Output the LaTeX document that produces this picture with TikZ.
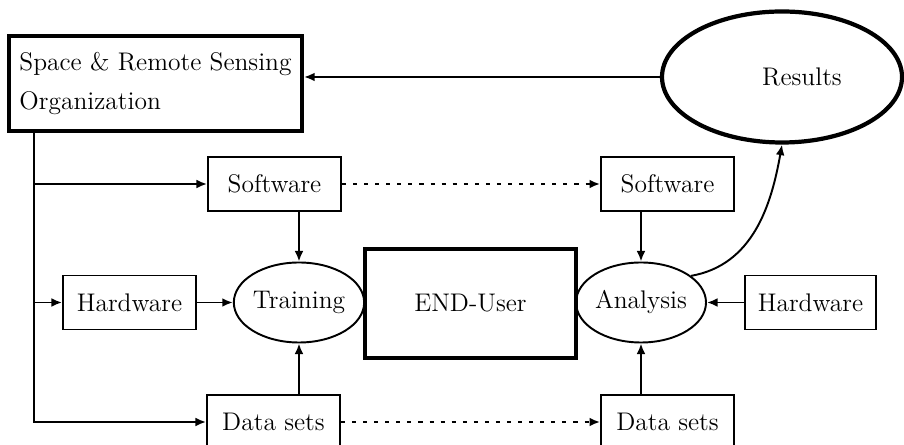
\documentclass[tikz,border=0pt]{standalone}
\usetikzlibrary{arrows.meta,shapes.geometric}
\begin{document}
\begin{tikzpicture}[>={Latex[length=6pt,width=5pt]},line width=1.1pt,
  every node/.style={font=\fontsize{14.5}{22}\selectfont},
  box/.style={draw,rectangle,minimum width=2.66cm,minimum height=1.08cm,inner sep=0pt},
  oval/.style={draw,ellipse,minimum width=2.6cm,minimum height=1.6cm,inner sep=0pt},
  thickbox/.style={draw,rectangle,line width=2.4pt,inner sep=0pt},
  dots/.style={dash pattern=on 2.3pt off 4pt}]
\useasboundingbox (0,0) rectangle (18.08,8.9);
\node[thickbox,minimum width=5.86cm,minimum height=1.9cm,align=left] (org) at (3.11,7.23) {Space \& Remote Sensing\\Organization};
\node[draw,ellipse,line width=2.4pt,minimum width=4.8cm,minimum height=2.62cm,inner sep=0pt] (res) at (15.64,7.36) {\hspace*{0.8cm}Results};
\node[box] (softL) at (5.49,5.22) {Software};
\node[box] (softR) at (13.35,5.22) {Software};
\node[box] (hardL) at (2.59,2.85) {Hardware};
\node[box,minimum width=2.62cm] (hardR) at (16.21,2.85) {Hardware};
\node[oval] (train) at (5.98,2.85) {Training};
\node[thickbox,minimum width=4.22cm,minimum height=2.18cm] (user) at (9.41,2.83) {END-User};
\node[oval] (ana) at (12.82,2.85) {Analysis};
\node[box] (dataL) at (5.47,0.46) {Data sets};
\node[box] (dataR) at (13.35,0.46) {Data sets};
\coordinate (tr) at ([xshift=0.54cm]org.south west);
\draw[->] (tr) |- (dataL.west);
\draw[->] (tr |- softL) -- (softL);
\draw[->] (tr |- hardL) -- (hardL);
\draw[->] (train.north |- softL.south) -- (train.north);
\draw[->] (hardL) -- (train);
\draw[->] (train.south |- dataL.north) -- (train.south);
\draw[->,dots] (softL) -- (softR);
\draw[->,dots] (dataL) -- (dataR);
\draw[->] (ana.north |- softR.south) -- (ana.north);
\draw[->] (hardR) -- (ana);
\draw[->] (ana.south |- dataR.north) -- (ana.south);
\draw[->] (ana.28) to[out=10,in=-100] (res.south);
\draw[->] (res) -- (res -| org.east);
\end{tikzpicture}
\end{document}
